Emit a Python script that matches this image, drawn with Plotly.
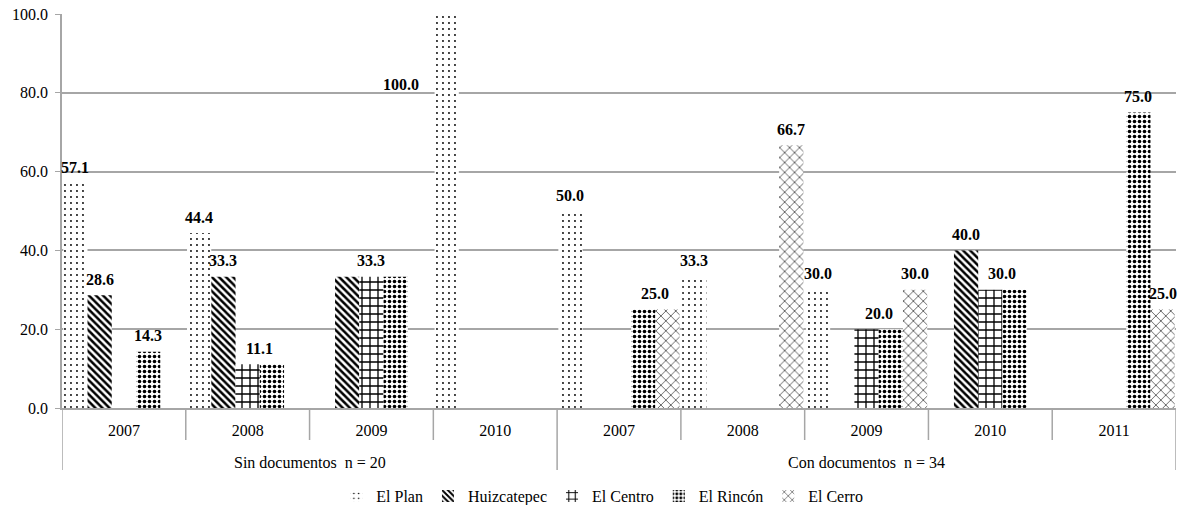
import plotly.graph_objects as go

groups = ["Sin documentos  n = 20"] * 4 + ["Con documentos  n = 34"] * 5
years = ["2007", "2008", "2009", "2010", "2007", "2008", "2009", "2010", "2011"]

series_names = ["El Plan", "Huizcatepec", "El Centro", "El Rincón", "El Cerro"]
el_plan = [57.1, 44.4, 0, 100.0, 50.0, 33.3, 30.0, 0, 0]
huizcatepec = [28.6, 33.3, 33.3, 0, 0, 0, 0, 40.0, 0]
el_centro = [0, 11.1, 33.3, 0, 0, 0, 20.0, 30.0, 0]
el_rincon = [14.3, 11.1, 33.3, 0, 25.0, 0, 20.0, 30.0, 75.0]
el_cerro = [0, 0, 0, 0, 25.0, 66.7, 30.0, 0, 25.0]
series_values = [el_plan, huizcatepec, el_centro, el_rincon, el_cerro]

patterns = [
    dict(shape=".", size=6, solidity=0.08),
    dict(shape="\\", size=5, solidity=0.5),
    dict(shape="+", size=8, solidity=0.3),
    dict(shape=".", size=5, solidity=0.42),
    dict(shape="x", size=7, solidity=0.16),
]

FONT = "Liberation Serif, Times New Roman, serif"
FS = 16
BARGAP = 0.02
GRID = "#a6a6a6"
PLOT_H = 505 - 14 - 97

x_keys = [f"{g}|{y}" for g, y in zip(groups, years)]

fig = go.Figure()
for name, vals, pat in zip(series_names, series_values, patterns):
    fig.add_trace(go.Bar(
        name=name,
        x=x_keys,
        y=vals,
        marker=dict(color="white", line=dict(width=0),
                    pattern=dict(fgcolor="black", bgcolor="white", fgopacity=1,
                                 fillmode="overlay", **pat)),
    ))

# data labels: one label per run of equal consecutive non-zero values in a category
n = len(series_values)
w = (1 - BARGAP) / n
annotations = []
for i in range(len(years)):
    k = 0
    while k < n:
        v = series_values[k][i]
        if not v:
            k += 1
            continue
        j = k
        while j + 1 < n and series_values[j + 1][i] == v:
            j += 1
        center = i - (1 - BARGAP) / 2 + w * ((k + j) / 2 + 0.5)
        if v >= 100:
            annotations.append(dict(x=i - (1 - BARGAP) / 2 + w * k, y=82, xref="x", yref="y",
                                    text=f"<b>{v:.1f}</b>", showarrow=False,
                                    xanchor="right", yanchor="middle", xshift=-14,
                                    font=dict(family=FONT, size=FS)))
        else:
            annotations.append(dict(x=center, y=v, xref="x", yref="y",
                                    text=f"<b>{v:.1f}</b>", showarrow=False,
                                    yanchor="middle", yshift=16,
                                    font=dict(family=FONT, size=FS)))
        k = j + 1

# axis decorations: year dividers, group dividers and group labels
shapes = []
line_style = dict(color=GRID, width=1.5)
group_order = []
for g in groups:
    if g not in group_order:
        group_order.append(g)
for i in range(len(years) - 1):
    same = groups[i] == groups[i + 1]
    shapes.append(dict(type="line", xref="x", yref="paper", x0=i + 0.5, x1=i + 0.5,
                       y0=0, y1=-(32 if same else 62) / PLOT_H, line=line_style))
for xb in (-0.5, len(years) - 0.5):
    shapes.append(dict(type="line", xref="x", yref="paper", x0=xb, x1=xb,
                       y0=0, y1=-62 / PLOT_H, line=line_style))
for g in group_order:
    idx = [i for i, gg in enumerate(groups) if gg == g]
    annotations.append(dict(x=sum(idx) / len(idx), y=-55 / PLOT_H, xref="x", yref="paper",
                            text=g, showarrow=False, yanchor="middle",
                            font=dict(family=FONT, size=FS)))

fig.update_layout(
    width=1193, height=505,
    margin=dict(l=62, r=17, t=14, b=97, autoexpand=False),
    paper_bgcolor="white", plot_bgcolor="white",
    barmode="group", bargap=BARGAP, bargroupgap=0,
    font=dict(family=FONT, size=FS, color="black"),
    annotations=annotations,
    shapes=shapes,
    showlegend=True,
    legend=dict(orientation="h", x=0.485, xanchor="center", y=-88 / PLOT_H, yanchor="middle",
                font=dict(family=FONT, size=FS), itemwidth=30, tracegroupgap=0),
)
fig.update_yaxes(range=[0, 100], dtick=20, tickformat=".1f", showgrid=True,
                 gridcolor=GRID, gridwidth=1.5, showline=True, linecolor=GRID,
                 linewidth=1.5, ticks="outside", ticklen=5, tickcolor=GRID,
                 ticklabelstandoff=4,
                 tickfont=dict(family=FONT, size=FS), zeroline=False, automargin=False)
fig.update_xaxes(type="category", tickvals=x_keys, ticktext=years, showline=True,
                 linecolor=GRID, linewidth=1.5, ticks="outside", ticklen=7,
                 tickcolor="rgba(0,0,0,0)", showgrid=False, automargin=False,
                 range=[-0.5, len(years) - 0.5],
                 tickfont=dict(family=FONT, size=FS))

fig.write_html("out.html", config={"displayModeBar": False},
               post_script="document.body.style.margin='0';document.body.style.overflow='hidden';")
